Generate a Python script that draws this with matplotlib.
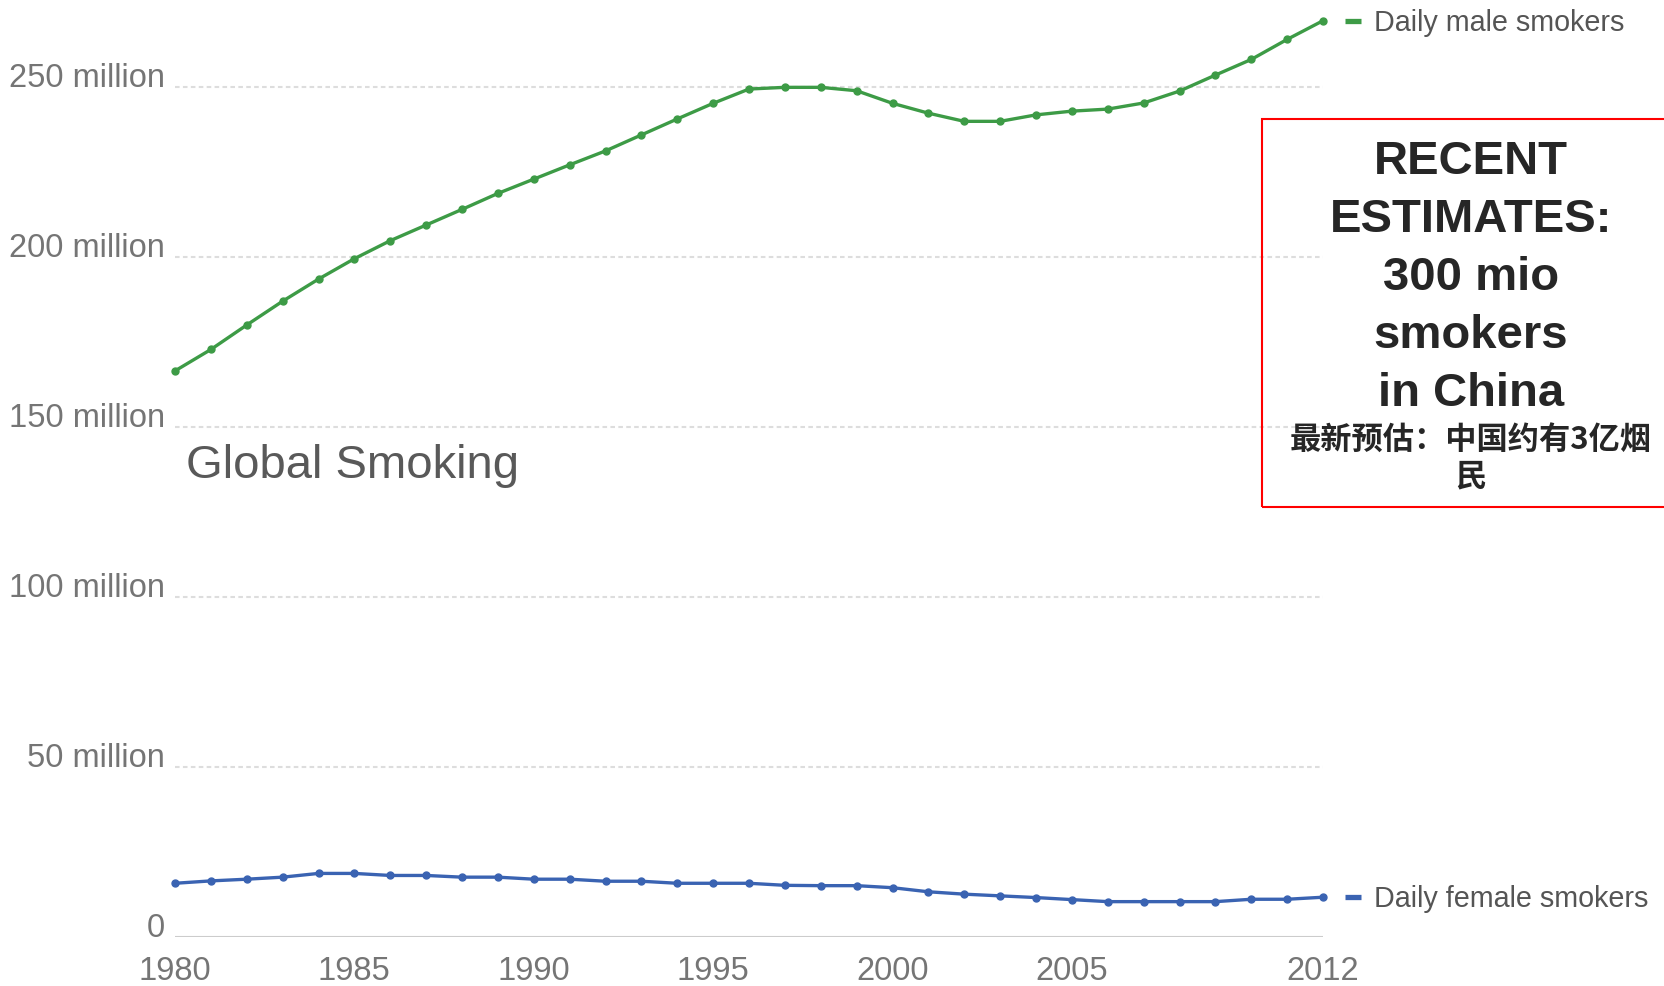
import matplotlib
matplotlib.use("Agg")
import matplotlib.pyplot as plt
import matplotlib.patches as patches
import matplotlib.transforms as mtransforms

years = list(range(1980, 2013))
male = [166.5, 172.8, 180.0, 187.0, 193.5, 199.5, 204.8, 209.4, 214.0, 218.7,
        222.9, 227.1, 231.2, 235.9, 240.6, 245.2, 249.4, 249.9, 249.9, 248.9,
        245.2, 242.3, 239.9, 239.9, 241.8, 242.9, 243.5, 245.3, 248.8, 253.5,
        258.1, 264.0, 269.5]
female = [15.8, 16.5, 17.0, 17.6, 18.7, 18.7, 18.1, 18.1, 17.6, 17.6,
          17.0, 17.0, 16.4, 16.4, 15.8, 15.8, 15.8, 15.2, 15.1, 15.1,
          14.5, 13.3, 12.6, 12.1, 11.6, 11.0, 10.4, 10.4, 10.4, 10.4,
          11.1, 11.1, 11.7]
yticks = [0, 50, 100, 150, 200, 250]
ylabels = ['0', '50 million', '100 million', '150 million', '200 million', '250 million']
xticks = [1980, 1985, 1990, 1995, 2000, 2005, 2012]
series_names = ['Daily male smokers', 'Daily female smokers']

plt.rcParams['font.family'] = ['Liberation Sans', 'DejaVu Sans']

green = '#3d9b46'
blue = '#3a63b2'

fig = plt.figure(figsize=(16.65, 9.86), dpi=100)
ax = fig.add_axes([175/1665, 49/986, 1148/1665, 275*3.4/986])

ax.plot(years, male, color=green, lw=2.4, marker='o', ms=5, clip_on=False, zorder=3)
ax.plot(years, female, color=blue, lw=2.4, marker='o', ms=5, clip_on=False, zorder=3)

ax.set_xlim(1980, 2012)
ax.set_ylim(0, 275)
for s in ax.spines.values():
    s.set_visible(False)

for v in yticks[1:]:
    ax.axhline(v, color='#dddddd', lw=1.5, ls=(0, (2.2, 1.6)), zorder=1)
ax.axhline(0, color='#cccccc', lw=1.5, zorder=1)

ax.set_yticks(yticks)
ax.set_yticklabels(ylabels)
ax.set_xticks(xticks)
ax.set_xticklabels([str(x) for x in xticks])
ax.tick_params(axis='y', length=0, pad=7, labelsize=23.5, labelcolor='#757575')
ax.tick_params(axis='x', length=0, pad=14, labelsize=23.5, labelcolor='#757575')
for lab in ax.get_yticklabels():
    lab.set_va('baseline')

# series labels at the end of each line
for vals, col, name in [(male, green, series_names[0]), (female, blue, series_names[1])]:
    tr = mtransforms.offset_copy(ax.transData, fig=fig, x=30, y=0, units='dots')
    ax.plot([years[-1]], [vals[-1]], marker='_', ms=12, mew=3.8, color=col,
            transform=tr, clip_on=False)
    ax.annotate(name, xy=(years[-1], vals[-1]), xytext=(51, -2), textcoords='offset pixels',
                ha='left', va='center', fontsize=20.7, color='#555555', annotation_clip=False)

fig.text(186/1665, (986-478)/986, 'Global Smoking', fontsize=34, color='#595959',
         ha='left', va='baseline')

# red note box
rect = patches.Rectangle((1262/1665, (986-507)/986), 0.26, 388/986, transform=fig.transFigure,
                         fill=False, edgecolor='#ff0000', lw=1.5, clip_on=False)
fig.add_artist(rect)
fig.text(1471/1665, (986-140)/986, 'RECENT\nESTIMATES:\n300 mio\nsmokers\nin China',
         ha='center', va='top', fontsize=34, fontweight='bold', color='#262626',
         linespacing=1.41, multialignment='center')
fig.text(1471/1665, (986-459)/986, '最新预估：中国约有3亿烟\n民', ha='center', va='center',
         fontsize=22.5, fontweight='bold', color='#262626', linespacing=1.15,
         multialignment='center', family=['Noto Sans CJK SC', 'DejaVu Sans'])

fig.savefig('out.png', dpi=100)
